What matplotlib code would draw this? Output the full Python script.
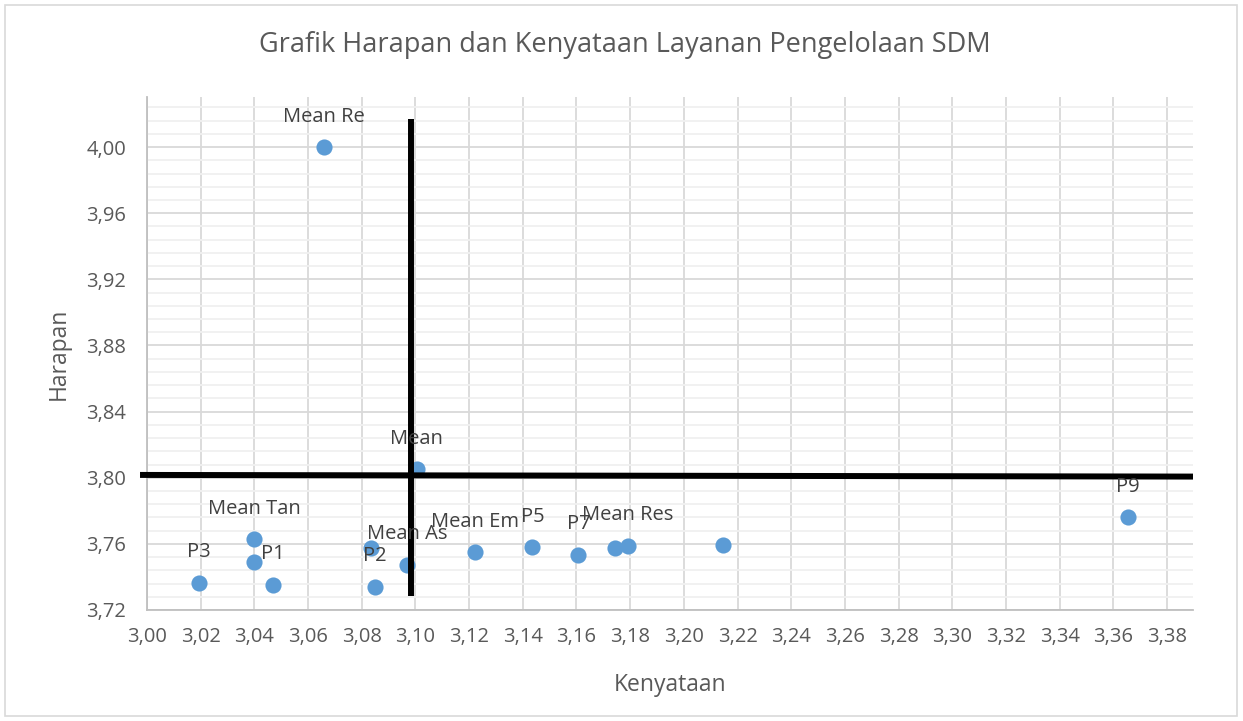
import numpy as np
import matplotlib.pyplot as plt
from matplotlib.ticker import MultipleLocator, FuncFormatter
from matplotlib.patches import Rectangle

plt.rcParams['font.family'] = ['Open Sans', 'DejaVu Sans']

# data (Kenyataan, Harapan)
names = ['P3', 'Mean Tan', '', 'P1', '', 'P2', 'Mean As', 'Mean', 'Mean Em',
         'P5', 'P7', '', 'Mean Res', '', 'P9', 'Mean Re']
kenyataan = [3.0193, 3.0400, 3.0400, 3.0468, 3.0836, 3.0848, 3.0969, 3.1005,
             3.1222, 3.1436, 3.1607, 3.1744, 3.1791, 3.2147, 3.3653, 3.0660]
harapan = [3.7363, 3.7628, 3.7488, 3.7351, 3.7577, 3.7341, 3.7472, 3.8051,
           3.7549, 3.7579, 3.7534, 3.7577, 3.7587, 3.7593, 3.7761, 4.0000]

# garis bantu (quadrant lines)
vline_x = [3.0984, 3.0984]
vline_y = [3.7283, 4.0167]
hline_x = [2.9974, 3.3897]
hline_y = [3.8017, 3.8007]

fig = plt.figure(figsize=(12.43, 7.21), dpi=100)
ax = fig.add_axes([147/1243, 1-610/721, (1193-147)/1243, (610-97)/721])

ax.set_xlim(3.00, 3.3897)
ax.set_ylim(3.72, 4.0303)

ax.xaxis.set_major_locator(MultipleLocator(0.02))
ax.yaxis.set_major_locator(MultipleLocator(0.04))
ax.yaxis.set_minor_locator(MultipleLocator(0.008))
fmt = FuncFormatter(lambda v, p: f'{v:.2f}'.replace('.', ','))
ax.xaxis.set_major_formatter(fmt)
ax.yaxis.set_major_formatter(fmt)

ax.grid(which='major', color='#d9d9d9', linewidth=1.3)
ax.grid(which='minor', axis='y', color='#f0f0f0', linewidth=1.3)
ax.set_axisbelow(True)

for s in ['top', 'right']:
    ax.spines[s].set_visible(False)
for s in ['left', 'bottom']:
    ax.spines[s].set_color('#bfbfbf')
    ax.spines[s].set_linewidth(1.3)
ax.tick_params(which='both', length=0, labelsize=14.5, colors='#595959')
ax.tick_params(axis='x', pad=12)
ax.tick_params(axis='y', pad=15)

ax.scatter(kenyataan, harapan, s=135, color='#5b9bd5', zorder=3, linewidths=0)
for n, xv, yv in zip(names, kenyataan, harapan):
    if n:
        ax.annotate(n, (xv, yv), xytext=(0, 22), textcoords='offset points',
                    ha='center', va='center', fontsize=14.5, color='#404040', zorder=5)

ax.plot(vline_x, vline_y, color='black', linewidth=4.3, clip_on=False, zorder=4,
        solid_capstyle='butt')
ax.plot(hline_x, hline_y, color='black', linewidth=4.3, clip_on=False, zorder=4,
        solid_capstyle='butt')

ax.set_xlabel('Kenyataan', fontsize=16.5, color='#595959', labelpad=19)
ax.set_ylabel('Harapan', fontsize=16.5, color='#595959', labelpad=11)
fig.text(625/1243, 1-45/721, 'Grafik Harapan dan Kenyataan Layanan Pengelolaan SDM',
         ha='center', va='center', fontsize=19.5, color='#595959')

fig.patches.append(Rectangle((5/1243, 5/721), 1232/1243, 711/721, transform=fig.transFigure,
                             fill=False, edgecolor='#d9d9d9', linewidth=1.2))

fig.savefig('out.png', dpi=100)
